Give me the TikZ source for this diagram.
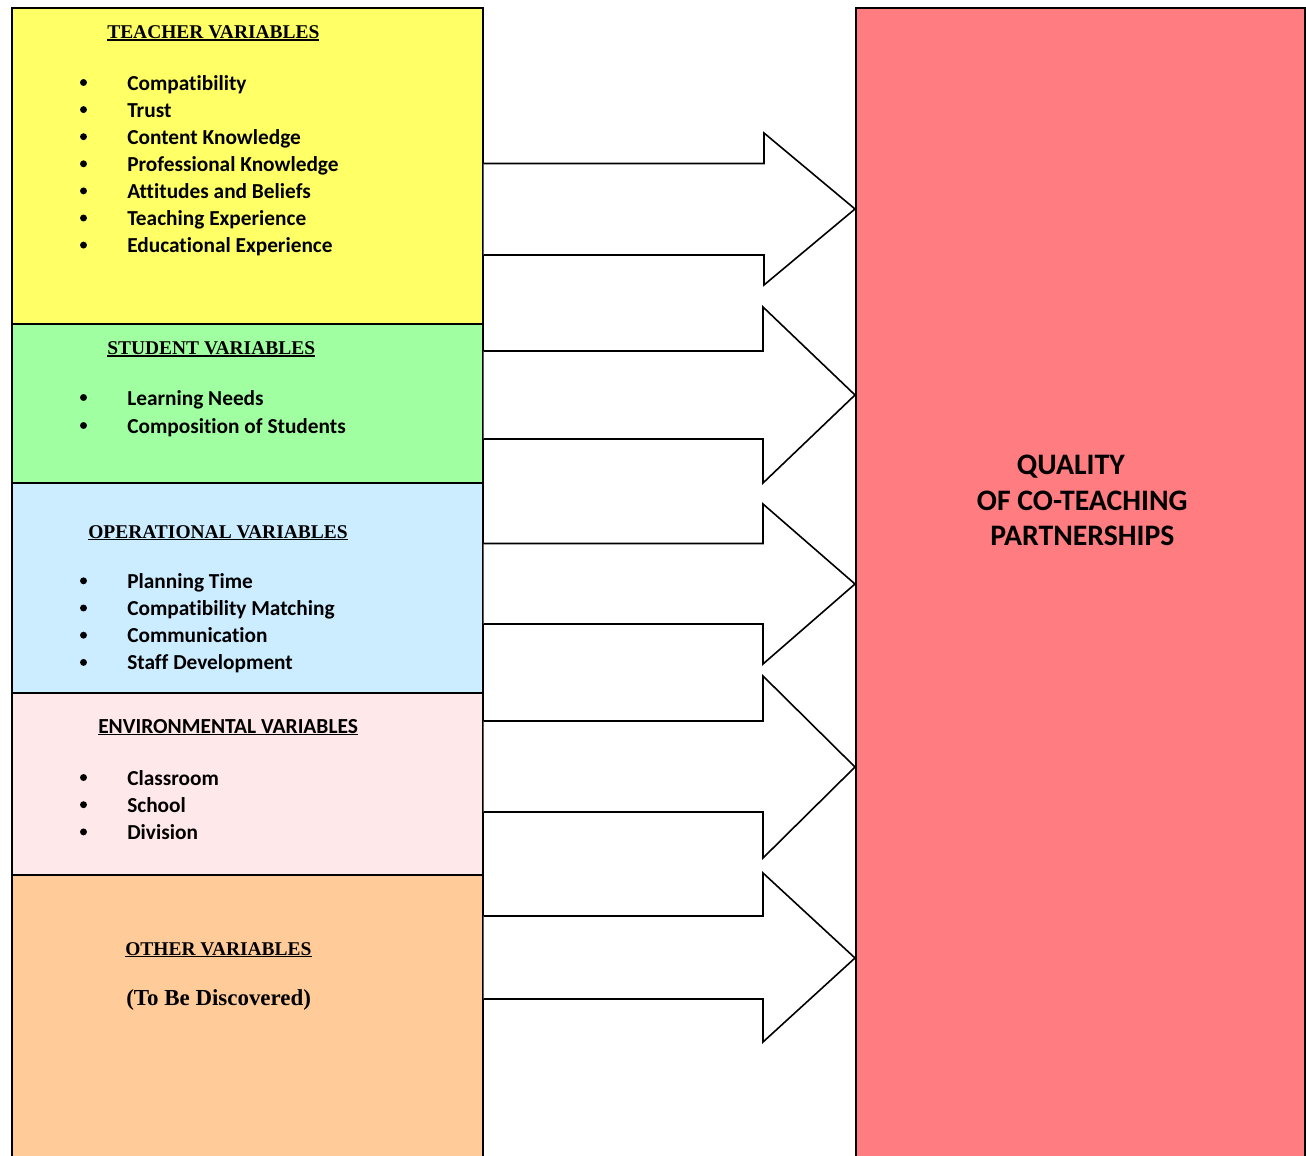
\documentclass[tikz,border=0pt]{standalone}
\usepackage{fontspec}
\setmainfont{Carlito}[Ligatures=NoCommon]
\newfontfamily\headfont{Liberation Serif}
\newcommand\myul[1]{\setbox0\hbox{#1}\rlap{\rule[-1.6pt]{\wd0}{0.9pt}}\box0}
\definecolor{yel}{HTML}{FFFF66}
\definecolor{grn}{HTML}{A0FFA0}
\definecolor{blu}{HTML}{CCECFF}
\definecolor{pnk}{HTML}{FFE8EA}
\definecolor{org}{HTML}{FFCC99}
\definecolor{rd}{HTML}{FF7C80}
\begin{document}
\begin{tikzpicture}[x=0.75pt,y=-0.75pt,
  box/.style={draw=black, line width=1.2pt, rectangle, anchor=north west, inner sep=0pt},
  item/.style={anchor=base west, inner sep=0pt, font=\fontsize{16pt}{19pt}\selectfont\bfseries},
  head/.style={anchor=base west, inner sep=0pt, font=\headfont\fontsize{14.6pt}{17pt}\selectfont\bfseries},
  shead/.style={anchor=base west, inner sep=0pt, font=\fontsize{16.1pt}{19pt}\selectfont\bfseries},
  big/.style={anchor=base west, inner sep=0pt, font=\fontsize{22.3pt}{27pt}\selectfont\bfseries},
  bul/.style={circle, fill=black, inner sep=0pt, minimum size=5.2pt},
  barrow/.style={draw=black, fill=white, line width=1.2pt, line join=miter}]
\useasboundingbox (0,0) rectangle (1306,1156);
\clip (0,0) rectangle (1306,1156);
\fill[white] (0,0) rectangle (1306,1156);
% boxes
\node[box, fill=yel, minimum width=353.25pt, minimum height=237pt] (teacher) at (11,7) {};
\node[box, fill=grn, minimum width=353.25pt, minimum height=119.25pt] (student) at (11,323) {};
\node[box, fill=blu, minimum width=353.25pt, minimum height=157.5pt] (oper) at (11,482) {};
\node[box, fill=pnk, minimum width=353.25pt, minimum height=136.5pt] (env) at (11,692) {};
\node[box, fill=org, minimum width=353.25pt, minimum height=220pt] (other) at (11,874) {};
\node[box, fill=rd, minimum width=336.75pt, minimum height=870pt] (quality) at (855,7) {};
% arrows
\draw[barrow] (teacher.east |- 0,163.5) -- (764,163.5) -- (764,133) -- (quality.west |- 0,209) -- (764,285) -- (764,255) -- (teacher.east |- 0,255);
\draw[barrow] (student.east |- 0,351) -- (763,351) -- (763,307) -- (quality.west |- 0,395) -- (763,483) -- (763,439) -- (teacher.east |- 0,439);
\draw[barrow] (oper.east |- 0,543.5) -- (763,543.5) -- (763,504) -- (quality.west |- 0,584) -- (763,664) -- (763,624) -- (oper.east |- 0,624);
\draw[barrow] (env.east |- 0,721) -- (763,721) -- (763,676) -- (quality.west |- 0,767) -- (763,858) -- (763,812) -- (env.east |- 0,812);
\draw[barrow] (other.east |- 0,916) -- (763,916) -- (763,873) -- (quality.west |- 0,958) -- (763,1042) -- (763,999) -- (other.east |- 0,999);
% teacher
\node[head] (th) at (107,38.5) {\myul{TEACHER VARIABLES}};
\foreach \t [count=\i from 0] in {Compatibility,Trust,Content Knowledge,Professional Knowledge,Attitudes and Beliefs,Teaching Experience,Educational Experience}{
  \node[bul] (tb\i) at (83.5,90-7.5+27.1*\i) {};
  \node[item] (ti\i) at (127,90+27.1*\i) {\t};
}
% student
\node[head] (sh) at (107,354.5) {\myul{STUDENT VARIABLES}};
\foreach \t [count=\i from 0] in {Learning Needs,Composition of Students}{
  \node[bul] (sb\i) at (83.5,405-7.5+28*\i) {};
  \node[item] (si\i) at (127,405+28*\i) {\t};
}
% operational
\node[head] (oh) at (88,538) {\myul{OPERATIONAL VARIABLES}};
\foreach \t [count=\i from 0] in {Planning Time,Compatibility Matching,Communication,Staff Development}{
  \node[bul] (ob\i) at (83.5,588.3-7.5+27.2*\i) {};
  \node[item] (oi\i) at (127,588.3+27.2*\i) {\t};
}
% environmental
\node[shead] (eh) at (98,733.3) {\myul{ENVIRONMENTAL VARIABLES}};
\foreach \t [count=\i from 0] in {Classroom,School,Division}{
  \node[bul] (eb\i) at (83.5,785-7.5+27.2*\i) {};
  \node[item] (ei\i) at (127,785+27.2*\i) {\t};
}
% other
\node[head] (xh) at (125,955) {\myul{OTHER VARIABLES}};
\node[head, font=\headfont\fontsize{17.2pt}{20pt}\selectfont\bfseries] (xd) at (126,1005) {(To Be Discovered)};
% quality
\node[big] (q1) at (1016.7,474) {QUALITY};
\node[big] (q2) at (976.7,510) {OF CO-TEACHING};
\node[big] (q3) at (990,545) {PARTNERSHIPS};
\end{tikzpicture}
\end{document}
